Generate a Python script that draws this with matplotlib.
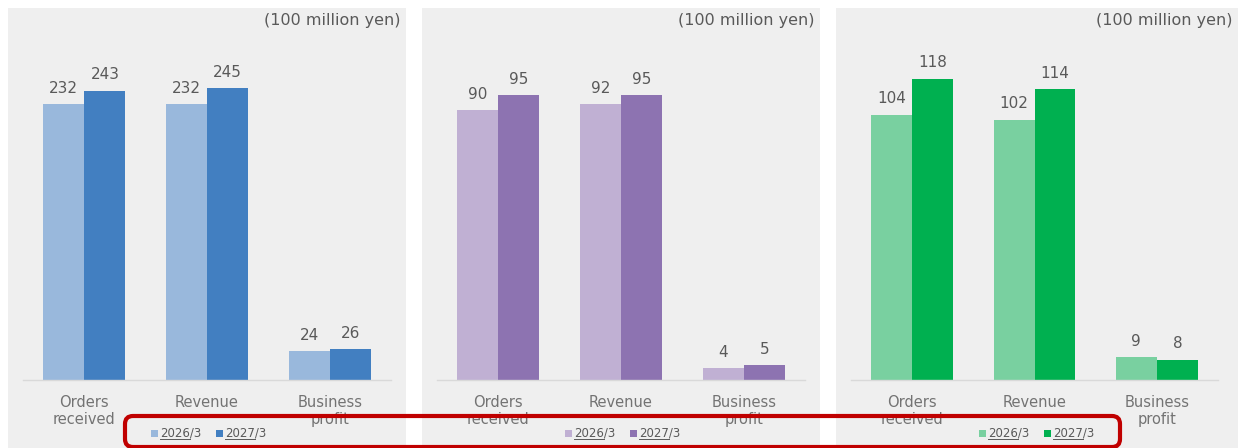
import matplotlib.pyplot as plt
import numpy as np
from matplotlib.patches import Rectangle, FancyBboxPatch
from matplotlib.transforms import IdentityTransform

categories = ['Orders\nreceived', 'Revenue', 'Business\nprofit']
years = ['2026/3', '2027/3']

seg1_2026 = [232, 232, 24]
seg1_2027 = [243, 245, 26]
seg2_2026 = [90, 92, 4]
seg2_2027 = [95, 95, 5]
seg3_2026 = [104, 102, 9]
seg3_2027 = [118, 114, 8]

unit_label = '(100 million yen)'

W, H = 1238, 448
fig = plt.figure(figsize=(W / 100, H / 100), dpi=100)
fig.patch.set_facecolor('white')


def fx(px):
    return px / W


def fy(py):
    # pixel rows counted from the top
    return 1 - py / H


panels = [
    # panel box (left, right), axes (left, right), ylim top, colours, data
    dict(box=(8, 406), ax=(23, 391), ymax=285.7,
         colors=('#99B8DC', '#427FC1'), vals=(seg1_2026, seg1_2027)),
    dict(box=(422, 820), ax=(437, 805), ymax=113.3,
         colors=('#C0B0D3', '#8D73B1'), vals=(seg2_2026, seg2_2027)),
    dict(box=(836, 1238), ax=(851, 1218), ymax=133.2,
         colors=('#79D0A0', '#00B050'), vals=(seg3_2026, seg3_2027)),
]

text_col = '#595959'
x = np.arange(len(categories))
w = 0.335
ax_top, ax_bot = 40, 380

legend_texts = []
for p in panels:
    b0, b1 = p['box']
    fig.patches.append(Rectangle((fx(b0), 0), fx(b1 - b0), fy(8),
                                 transform=fig.transFigure,
                                 facecolor='#EFEFEF', edgecolor='none',
                                 zorder=-5))
    a0, a1 = p['ax']
    ax = fig.add_axes([fx(a0), fy(ax_bot), fx(a1 - a0), (ax_bot - ax_top) / H])
    ax.patch.set_alpha(0)
    ax.set_zorder(1)
    for i, (vals, col) in enumerate(zip(p['vals'], p['colors'])):
        bars = ax.bar(x + (i - 0.5) * w, vals, width=w, color=col, zorder=2)
        for bar, v in zip(bars, vals):
            ax.annotate(str(v), (bar.get_x() + bar.get_width() / 2, v),
                        xytext=(0, 6), textcoords='offset points',
                        ha='center', va='bottom', fontsize=11, color=text_col)
    ax.set_xlim(-0.5, 2.5)
    ax.set_ylim(0, p['ymax'])
    ax.set_yticks([])
    ax.set_xticks(x)
    ax.set_xticklabels(categories, fontsize=10.5, color='#737373',
                       linespacing=1.15)
    ax.tick_params(axis='x', length=0, pad=11)
    for s in ['top', 'left', 'right']:
        ax.spines[s].set_visible(False)
    ax.spines['bottom'].set_color('#D9D9D9')
    ax.spines['bottom'].set_linewidth(1)

    fig.text(fx(b1 - 6), fy(21), unit_label, ha='right', va='center',
             fontsize=11.5, color=text_col)

    # legend: square marker + label per year
    ly = 433
    for j, (year, col) in enumerate(zip(years, p['colors'])):
        sx = b0 + 143 + j * 65
        fig.patches.append(Rectangle((fx(sx), fy(ly + 3.5)), fx(7), 7 / H,
                                     transform=fig.transFigure,
                                     facecolor=col, edgecolor='none', zorder=3))
        t = fig.text(fx(sx + 9), fy(ly), year, ha='left', va='center',
                     fontsize=8.5, color=text_col, zorder=3)
        legend_texts.append(t)

# rounded red frame along the bottom (display pixels, origin bottom-left)
frame = FancyBboxPatch((125, H - 447), 995, 31,
                       boxstyle='round,pad=0,rounding_size=8',
                       transform=IdentityTransform(),
                       facecolor='none', edgecolor='#C00000',
                       linewidth=3, zorder=10)
fig.add_artist(frame)

# underline the year part of each legend label
fig.canvas.draw()
renderer = fig.canvas.get_renderer()
for t in legend_texts:
    bb = t.get_window_extent(renderer)
    probe = fig.text(0, 0, t.get_text().split('/')[0], fontsize=8.5)
    pw = probe.get_window_extent(renderer).width
    probe.remove()
    uy = (bb.y0 + 1) / H
    fig.add_artist(plt.Line2D([bb.x0 / W, (bb.x0 + pw) / W], [uy, uy],
                              transform=fig.transFigure, color=text_col,
                              linewidth=0.7, zorder=3))

fig.savefig('out.png', dpi=100)
